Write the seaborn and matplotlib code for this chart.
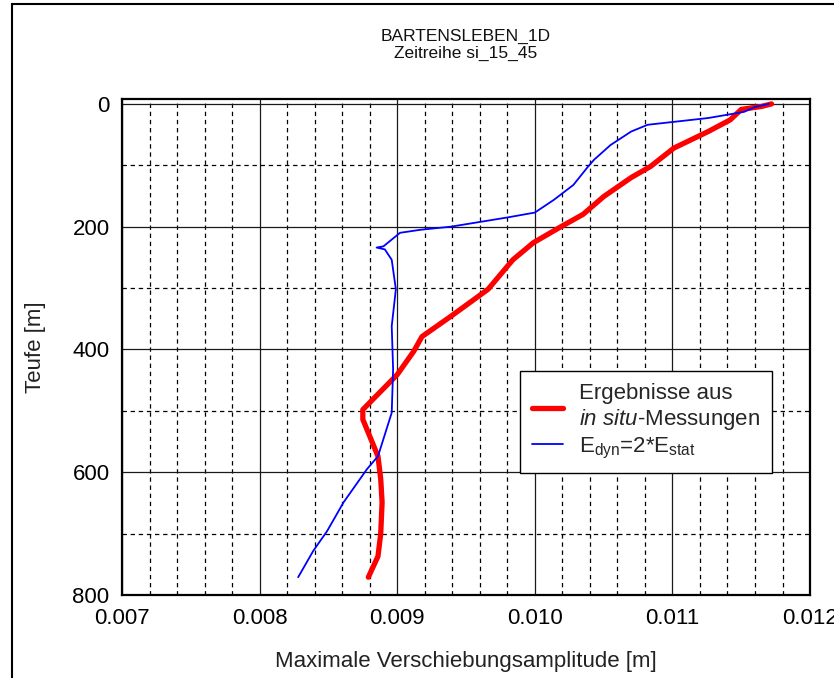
import matplotlib
matplotlib.use("Agg")
import matplotlib.pyplot as plt
from matplotlib.patches import Rectangle
from matplotlib.ticker import MultipleLocator
import seaborn as sns
import pandas as pd


# -------------------- Data --------------------

# results from in situ measurements (red)
insitu_depth = [0, 4, 9, 26, 45, 72, 102, 120, 151, 180, 200, 226, 254, 302,
                346, 379, 403, 441, 498, 514, 574, 611, 649, 700, 737, 771]
insitu_amp = [0.01172, 0.01165, 0.01150, 0.01142, 0.01126, 0.01101, 0.01084,
              0.01070, 0.01050, 0.01035, 0.01019, 0.00999, 0.00984, 0.00966,
              0.00939, 0.00918, 0.00912, 0.00900, 0.00875, 0.00875, 0.00886,
              0.00888, 0.00889, 0.00888, 0.00886, 0.00879]

# E_dyn = 2*E_stat (blue)
edyn_depth = [0, 5, 13, 23, 34, 45, 67, 91, 104, 132, 156, 177, 185, 200,
              205, 210, 232, 234, 237, 254, 302, 362, 432, 503, 574, 595,
              649, 696, 728, 771]
edyn_amp = [0.01170, 0.01160, 0.01152, 0.01126, 0.01082, 0.01070, 0.01055,
            0.01043, 0.01038, 0.01028, 0.01014, 0.01000, 0.00980, 0.00939,
            0.00917, 0.00902, 0.00890, 0.00885, 0.00891, 0.00896, 0.00899,
            0.00896, 0.00897, 0.00896, 0.00886, 0.00878, 0.00861, 0.00849,
            0.00839, 0.00828]

title_lines = ["BARTENSLEBEN_1D", "Zeitreihe si_15_45"]
label_insitu = "Ergebnisse aus\n$\\mathit{in\\ situ}$-Messungen"
label_edyn = "E$_{\\mathrm{dyn}}$=2*E$_{\\mathrm{stat}}$"


# -------------------- Style --------------------

sns.set_theme(style="white")
plt.rcParams["font.family"] = ["Liberation Sans", "DejaVu Sans"]
plt.rcParams["mathtext.fontset"] = "custom"
plt.rcParams["mathtext.rm"] = "Liberation Sans"
plt.rcParams["mathtext.it"] = "Liberation Sans:italic"

df_insitu = pd.DataFrame({"amp": insitu_amp, "depth": insitu_depth})
df_edyn = pd.DataFrame({"amp": edyn_amp, "depth": edyn_depth})

fig = plt.figure(figsize=(8.34, 6.78), dpi=100)
ax = fig.add_axes([0.1463, 0.1224, 0.825, 0.7316])

# -------------------- Plot --------------------

sns.lineplot(data=df_insitu, x="amp", y="depth", sort=False, estimator=None,
             color="#ff0000", linewidth=3.8, label=label_insitu, ax=ax,
             zorder=4, solid_capstyle="round", solid_joinstyle="round")
sns.lineplot(data=df_edyn, x="amp", y="depth", sort=False, estimator=None,
             color="#0000ff", linewidth=1.3, label=label_edyn, ax=ax,
             zorder=5, solid_joinstyle="round")

ax.set_xlim(0.007, 0.012)
ax.set_ylim(800, -8)

ax.xaxis.set_major_locator(MultipleLocator(0.001))
ax.xaxis.set_minor_locator(MultipleLocator(0.0002))
ax.yaxis.set_major_locator(MultipleLocator(200))
ax.yaxis.set_minor_locator(MultipleLocator(100))
ax.xaxis.set_major_formatter(plt.FuncFormatter(lambda v, p: f"{v:.3f}"))
ax.yaxis.set_major_formatter(plt.FuncFormatter(lambda v, p: f"{v:.0f}"))

ax.grid(True, which="major", color="0.1", linewidth=0.9, linestyle="-")
ax.grid(True, which="minor", color="black", linewidth=0.9,
        linestyle=(0, (3.5, 3)))
ax.set_axisbelow(True)

ax.tick_params(which="both", length=0, labelsize=16, colors="black")
ax.tick_params(axis="x", pad=9)
ax.tick_params(axis="y", pad=9)

for s in ax.spines.values():
    s.set_linewidth(1.6)
    s.set_color("black")

ax.set_xlabel("Maximale Verschiebungsamplitude [m]", fontsize=16,
              color="#222222")
ax.set_ylabel("Teufe [m]", fontsize=16, color="#222222")
ax.xaxis.set_label_coords(0.5, -0.112)
ax.yaxis.set_label_coords(-0.11, 0.5)

fig.text(0.5588, 1 - 45 / 678, "\n".join(title_lines), ha="center",
         va="center", fontsize=12.5, linespacing=1.15, color="#111111")

leg = ax.legend(loc="lower right", bbox_to_anchor=(0.945, 0.246),
                fontsize=16, frameon=True, fancybox=False, framealpha=1,
                edgecolor="black", handlelength=1.4, handletextpad=0.7,
                labelspacing=0.15, borderpad=0.55, borderaxespad=0)
leg.get_frame().set_linewidth(1.0)
leg.set_zorder(10)

# outer frame of the figure
fig.patches.append(Rectangle((12 / 834, -0.1), 1.2, 1.1 - 4 / 678,
                             transform=fig.transFigure, fill=False,
                             edgecolor="black", linewidth=1.5))

fig.savefig("out.png", dpi=100)
